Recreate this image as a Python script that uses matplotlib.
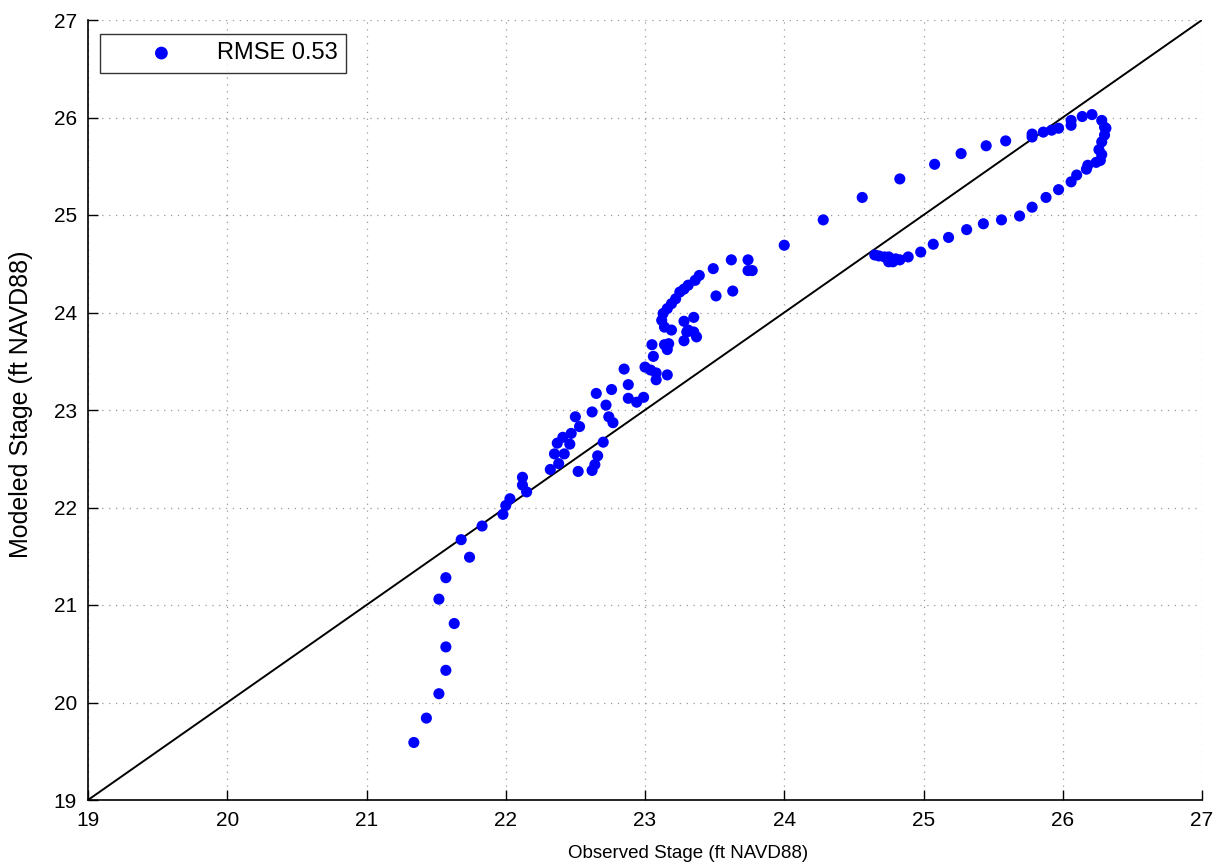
import matplotlib
matplotlib.use("Agg")
import matplotlib.pyplot as plt

observed = [
    21.34, 21.43, 21.52, 21.57, 21.57, 21.63, 21.52, 21.57, 21.74, 21.68, 21.83, 21.98, 22.00,
    22.03, 22.12, 22.12, 22.15,
    22.32, 22.35, 22.37, 22.38, 22.42, 22.41, 22.46, 22.47, 22.50, 22.53, 22.52, 22.62, 22.62,
    22.64, 22.66, 22.70, 22.72, 22.74, 22.77, 22.85, 22.65, 22.76, 22.88, 22.88, 22.94, 22.99,
    23.00, 23.04, 23.06, 23.05, 23.08, 23.08, 23.16, 23.14, 23.16, 23.28, 23.30, 23.17, 23.37,
    23.35, 23.31, 23.19, 23.28, 23.35, 23.14, 23.12, 23.13, 23.16, 23.19, 23.22, 23.25, 23.28,
    23.31, 23.36, 23.39, 23.49, 23.51, 23.62, 23.63, 23.74, 23.74, 23.77,
    24.00, 24.28, 24.56, 24.83, 25.08, 25.27, 25.45, 25.59, 25.78, 25.78, 25.86, 25.92, 25.97,
    26.06, 26.06, 26.14, 26.21, 26.28, 26.30, 26.31, 26.30, 26.28, 26.26, 26.28, 26.27, 26.24,
    26.18, 26.17, 26.10, 26.06, 25.97, 25.88, 25.78, 25.69, 25.56, 25.43, 25.31, 25.18, 25.07,
    24.98, 24.89, 24.83, 24.65, 24.68, 24.72, 24.75, 24.75, 24.78, 24.80,
]
modeled = [
    19.59, 19.84, 20.09, 20.33, 20.57, 20.81, 21.06, 21.28, 21.49, 21.67, 21.81, 21.93, 22.02,
    22.09, 22.31, 22.23, 22.16,
    22.39, 22.55, 22.66, 22.45, 22.55, 22.72, 22.65, 22.76, 22.93, 22.83, 22.37, 22.98, 22.38,
    22.44, 22.53, 22.67, 23.05, 22.93, 22.87, 23.42, 23.17, 23.21, 23.26, 23.12, 23.08, 23.13,
    23.44, 23.41, 23.55, 23.67, 23.31, 23.38, 23.36, 23.67, 23.62, 23.71, 23.80, 23.68, 23.75,
    23.80, 23.82, 23.82, 23.91, 23.95, 23.85, 23.92, 23.99, 24.04, 24.09, 24.14, 24.21, 24.24,
    24.28, 24.33, 24.38, 24.45, 24.17, 24.54, 24.22, 24.54, 24.43, 24.43,
    24.69, 24.95, 25.18, 25.37, 25.52, 25.63, 25.71, 25.76, 25.83, 25.80, 25.85, 25.87, 25.89,
    25.92, 25.97, 26.01, 26.03, 25.97, 25.90, 25.89, 25.82, 25.75, 25.67, 25.62, 25.56, 25.54,
    25.51, 25.47, 25.41, 25.34, 25.26, 25.18, 25.08, 24.99, 24.95, 24.91, 24.85, 24.77, 24.70,
    24.62, 24.57, 24.54, 24.59, 24.58, 24.57, 24.57, 24.52, 24.52, 24.55,
]
ticks = [19, 20, 21, 22, 23, 24, 25, 26, 27]
legend_label = "RMSE 0.53"

plt.rcParams['font.family'] = ['Liberation Sans', 'DejaVu Sans']

fig = plt.figure(figsize=(12.2, 8.67), dpi=100)
ax = fig.add_axes([88/1220, 67/867, 1114/1220, 780/867])

ax.scatter(observed, modeled, s=64, color='#0000ff', edgecolors='none',
           label=legend_label, zorder=3)
ax.plot([19, 27], [19, 27], color='black', lw=1.4, zorder=2)

ax.set_xlim(19, 27)
ax.set_ylim(19, 27)
ax.set_xticks(ticks)
ax.set_yticks(ticks)
ax.grid(True, color='#999999', linestyle=(0, (1, 4.5)), linewidth=0.9)
for s in ['top', 'right']:
    ax.spines[s].set_visible(False)
for s in ['left', 'bottom']:
    ax.spines[s].set_linewidth(1.2)
ax.tick_params(direction='in', length=7, width=1.0, labelsize=15, pad=8)

ax.set_xlabel("Observed Stage (ft NAVD88)", fontsize=13.5)
ax.xaxis.set_label_coords((688 - 88) / 1114, -(853 - 800) / 780)
ax.xaxis.label.set_verticalalignment('center')
ax.set_ylabel("Modeled Stage (ft NAVD88)", fontsize=18)
ax.yaxis.set_label_coords(-(88 - 21) / 1114, (800 - 404) / 780)
ax.yaxis.label.set_verticalalignment('center')

leg = ax.legend(loc='upper left', bbox_to_anchor=(12/1114, 1 - 14/780), fontsize=17,
                frameon=True, fancybox=False, borderaxespad=0, handletextpad=0.1,
                borderpad=0.35, markerscale=1.15, handlelength=4.5)
leg.get_frame().set_edgecolor('black')
leg.get_frame().set_linewidth(1.0)

fig.savefig("out.png", dpi=100)
